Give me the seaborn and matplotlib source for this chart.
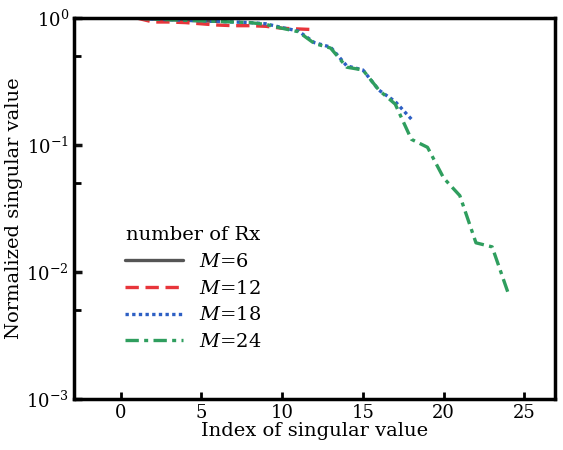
import numpy as np
import pandas as pd
import matplotlib
matplotlib.use("Agg")
import matplotlib.pyplot as plt
import seaborn as sns
from matplotlib.ticker import NullFormatter

# singular values (normalized), index starts at 1
m6 = [1.0, 0.98, 0.97, 0.96, 0.95, 0.94]
m12 = [1.0, 0.93, 0.93, 0.92, 0.90, 0.88, 0.87, 0.87, 0.86, 0.83, 0.82, 0.81]
m18 = [1.0, 0.98, 0.97, 0.96, 0.95, 0.94, 0.93, 0.92, 0.90, 0.84, 0.79, 0.64,
       0.59, 0.42, 0.39, 0.27, 0.22, 0.16]
m24 = [1.0, 0.98, 0.97, 0.96, 0.95, 0.94, 0.93, 0.92, 0.89, 0.83, 0.78, 0.63,
       0.58, 0.41, 0.39, 0.27, 0.21, 0.111, 0.096, 0.055, 0.040, 0.017,
       0.0158, 0.0068]

series = {"$M$=6": m6, "$M$=12": m12, "$M$=18": m18, "$M$=24": m24}
colors = {"$M$=6": "#555555", "$M$=12": "#e8353b",
          "$M$=18": "#2d5fc4", "$M$=24": "#2f9e5e"}
dashes = {"$M$=6": None, "$M$=12": (4, 2),
          "$M$=18": (1, 1), "$M$=24": (4, 1.6, 1.2, 1.6)}

rows = []
for name, vals in series.items():
    for i, v in enumerate(vals):
        rows.append({"index": i + 1, "value": v, "M": name})
df = pd.DataFrame(rows)

sns.set_style("ticks")
plt.rcParams["font.family"] = ["DejaVu Serif"]
plt.rcParams["mathtext.fontset"] = "dejavuserif"
plt.rcParams["text.color"] = "black"
plt.rcParams["axes.labelcolor"] = "black"
plt.rcParams["xtick.color"] = "black"
plt.rcParams["ytick.color"] = "black"
plt.rcParams["axes.edgecolor"] = "black"

fig, ax = plt.subplots(figsize=(5.63, 4.5), dpi=100)
fig.subplots_adjust(left=0.131, right=0.986, top=0.96, bottom=0.113)

for name in series:
    d = df[df["M"] == name]
    sns.lineplot(data=d, x="index", y="value", ax=ax, color=colors[name],
                 lw=2.4, label=name)
    if dashes[name] is not None:
        ax.lines[-1].set_dashes(dashes[name])

ax.set_yscale("log")
ax.set_ylim(1e-3, 1)
ax.set_xlim(-2.9, 26.9)
ax.set_xticks([0, 5, 10, 15, 20, 25])
ax.set_yticks([1e-3, 1e-2, 1e-1, 1])
ax.set_yticks([5e-3, 5e-2, 5e-1], minor=True)
ax.yaxis.set_minor_formatter(NullFormatter())

for s in ax.spines.values():
    s.set_linewidth(2.5)
ax.tick_params(axis="x", which="major", direction="in", width=2, length=5,
               labelsize=13, top=False, color="black")
ax.tick_params(axis="y", which="major", direction="in", width=2.5, length=6,
               labelsize=13, right=False, left=True, color="#111111")
ax.tick_params(axis="y", which="minor", direction="in", width=2, length=5,
               right=False, left=True, color="black")
ax.set_xlabel("Index of singular value", fontsize=14, labelpad=0)
ax.set_ylabel("Normalized singular value", fontsize=14, labelpad=2)

leg = ax.legend(title="number of Rx", loc="lower left", frameon=False,
                fontsize=14, title_fontsize=14, handlelength=3.0,
                labelspacing=0.45, bbox_to_anchor=(0.07, 0.08))

fig.savefig("out.png", dpi=100)
